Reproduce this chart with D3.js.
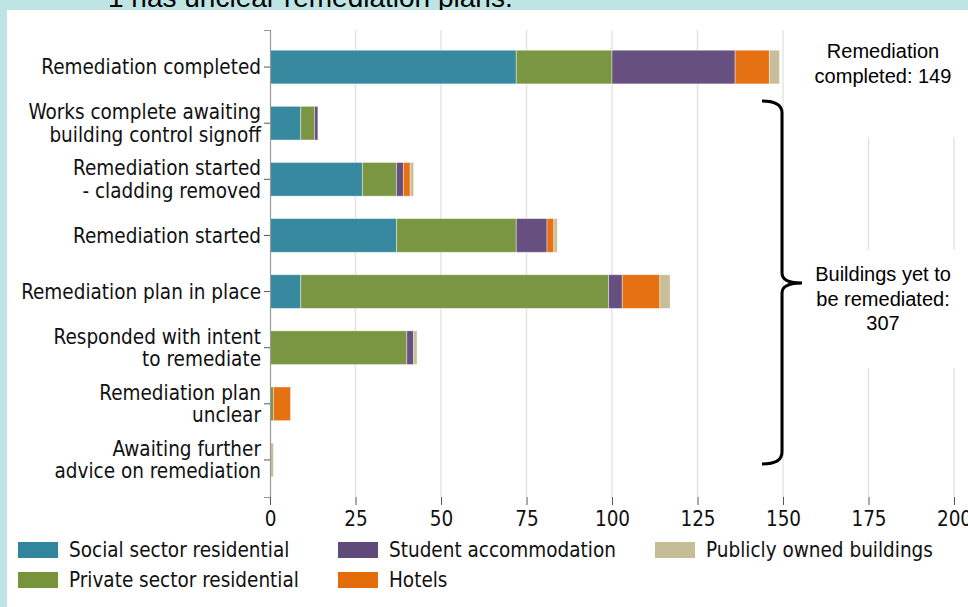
<!DOCTYPE html>
<html>
<head>
<meta charset="utf-8">
<script src="https://cdn.jsdelivr.net/npm/d3@7"></script>
<style>
  body { margin: 0; background: #bee5e3; }
  svg { display: block; }
</style>
</head>
<body>
<div id="chart"></div>
<script>
// categories (top to bottom) and the five series
var categories = [
  "Remediation completed",
  "Works complete awaiting\nbuilding control signoff",
  "Remediation started\n- cladding removed",
  "Remediation started",
  "Remediation plan in place",
  "Responded with intent\nto remediate",
  "Remediation plan\nunclear",
  "Awaiting further\nadvice on remediation"
];
var seriesNames = ["Social sector residential", "Private sector residential",
  "Student accommodation", "Hotels", "Publicly owned buildings"];
var seriesColors = ["#31859c", "#77933c", "#604a7b", "#e46c0a", "#c4bd97"];

var social      = [72, 9, 27, 37, 9, 0, 0, 0];
var privateRes  = [28, 4, 10, 35, 90, 40, 1, 0];
var student     = [36, 1, 2, 9, 4, 2, 0, 0];
var hotels      = [10, 0, 2, 2, 11, 0, 5, 0];
var publicOwned = [3, 0, 1, 1, 3, 1, 0, 1];

var xTicks = [0, 25, 50, 75, 100, 125, 150, 175, 200];
var completedNote = ["Remediation", "completed: 149"];
var remainingNote = ["Buildings yet to", "be remediated:", "307"];

var W = 968, H = 607;
var labelFont = "'DejaVu Sans Condensed', 'DejaVu Sans', sans-serif";
var labelSize = 20.5;

var svg = d3.select("#chart").append("svg")
    .attr("width", W).attr("height", H);

// cut-off heading above the white panel
svg.append("text")
    .attr("x", 108).attr("y", 7)
    .attr("font-family", "'Liberation Sans', Arial, sans-serif")
    .attr("font-size", 28)
    .attr("fill", "#000")
    .text("1 has unclear remediation plans.");

svg.append("rect")
    .attr("x", 7).attr("y", 10)
    .attr("width", W - 7).attr("height", H - 10)
    .attr("fill", "#fff");

// scales
var x = d3.scaleLinear().domain([0, 200]).range([270, 954]);
var y = d3.scaleBand().domain(categories).range([30, 497])
    .paddingInner(0.4).paddingOuter(0.36);

// table for the stack
var table = categories.map(function(c, i) {
  return {cat: c, s0: social[i], s1: privateRes[i], s2: student[i], s3: hotels[i], s4: publicOwned[i]};
});
var stack = d3.stack().keys(["s0", "s1", "s2", "s3", "s4"])(table);

// gridlines
svg.append("g")
  .selectAll("line")
  .data(xTicks.slice(1))
  .enter().append("line")
    .attr("x1", function(d) { return x(d); })
    .attr("x2", function(d) { return x(d); })
    .attr("y1", 30).attr("y2", 497)
    .attr("stroke", "#e4e4e4")
    .attr("stroke-width", 1.5);

// bars
svg.append("g")
  .selectAll("g")
  .data(stack)
  .enter().append("g")
    .attr("fill", function(d, i) { return seriesColors[i]; })
  .selectAll("rect")
  .data(function(d) { return d.filter(function(p) { return p[1] > p[0]; }); })
  .enter().append("rect")
    .attr("x", function(d) { return x(d[0]); })
    .attr("width", function(d) { return x(d[1]) - x(d[0]); })
    .attr("y", function(d) { return y(d.data.cat); })
    .attr("height", y.bandwidth())
    .attr("fill-opacity", 0.97)
    .attr("stroke", "#fff")
    .attr("stroke-opacity", 0.5)
    .attr("stroke-width", 0.8);

// y axis
var yAxis = svg.append("g")
    .attr("transform", "translate(270,0)")
    .call(d3.axisLeft(y).tickSize(6).tickPadding(4));
yAxis.select(".domain").attr("stroke", "#999").attr("stroke-width", 1.2);
yAxis.selectAll(".tick line").attr("stroke", "#555");
yAxis.selectAll(".tick text")
    .attr("font-family", labelFont)
    .attr("font-size", labelSize)
    .attr("fill", "#111")
    .each(function(d) {
      var t = d3.select(this);
      var lines = d.split("\n");
      t.text(null).attr("dy", null);
      lines.forEach(function(l, i) {
        t.append("tspan")
          .attr("x", -9)
          .attr("y", (i - (lines.length - 1) / 2) * 22.5)
          .attr("dy", "0.35em")
          .text(l);
      });
    });

// x axis (ticks only)
var xAxis = svg.append("g")
    .attr("transform", "translate(0,497)")
    .call(d3.axisBottom(x).tickValues(xTicks).tickSize(8).tickPadding(6));
xAxis.select(".domain").remove();
xAxis.selectAll(".tick line").attr("stroke", "#555");
xAxis.selectAll(".tick text")
    .attr("font-family", labelFont)
    .attr("font-size", labelSize)
    .attr("fill", "#111");

// annotation boxes hide the gridlines behind the notes
svg.append("rect").attr("x", 797).attr("y", 20).attr("width", 171).attr("height", 117).attr("fill", "#fff");
svg.append("rect").attr("x", 797).attr("y", 250).attr("width", 171).attr("height", 118).attr("fill", "#fff");

var noteFont = "'Liberation Sans', Arial, sans-serif";
svg.append("text")
    .attr("x", 883).attr("y", 51)
    .attr("text-anchor", "middle")
    .attr("font-family", noteFont).attr("font-size", 20)
    .selectAll("tspan").data(completedNote).enter().append("tspan")
    .attr("x", 883).attr("dy", function(d, i) { return i ? 25 : "0.35em"; })
    .text(function(d) { return d; });

svg.append("text")
    .attr("x", 883).attr("y", 274)
    .attr("text-anchor", "middle")
    .attr("font-family", noteFont).attr("font-size", 20)
    .selectAll("tspan").data(remainingNote).enter().append("tspan")
    .attr("x", 883).attr("dy", function(d, i) { return i ? 24.5 : "0.35em"; })
    .text(function(d) { return d; });

// brace spanning the buildings yet to be remediated
var bx = 782, braceTop = 101, braceBot = 464, braceMid = 283;
svg.append("path")
    .attr("d", "M762," + braceTop + " Q" + bx + "," + braceTop + " " + bx + "," + (braceTop + 12) +
               " L" + bx + "," + (braceMid - 10) + " Q" + bx + "," + braceMid + " " + (bx + 20) + "," + braceMid +
               " Q" + bx + "," + braceMid + " " + bx + "," + (braceMid + 10) +
               " L" + bx + "," + (braceBot - 12) + " Q" + bx + "," + braceBot + " 762," + braceBot)
    .attr("fill", "none")
    .attr("stroke", "#000")
    .attr("stroke-width", 3);

// legend
var legendPos = [[18, 550], [18, 580], [338, 550], [338, 580], [655, 550]];
var legend = svg.append("g")
  .selectAll("g")
  .data(seriesNames)
  .enter().append("g")
    .attr("transform", function(d, i) { return "translate(" + legendPos[i][0] + "," + legendPos[i][1] + ")"; });
legend.append("rect")
    .attr("x", 0).attr("y", -8)
    .attr("width", 40).attr("height", 16)
    .attr("fill", function(d, i) { return seriesColors[i]; });
legend.append("text")
    .attr("x", 51).attr("y", 0).attr("dy", "0.35em")
    .attr("font-family", labelFont).attr("font-size", labelSize)
    .attr("fill", "#111")
    .text(function(d) { return d; });
</script>
</body>
</html>
